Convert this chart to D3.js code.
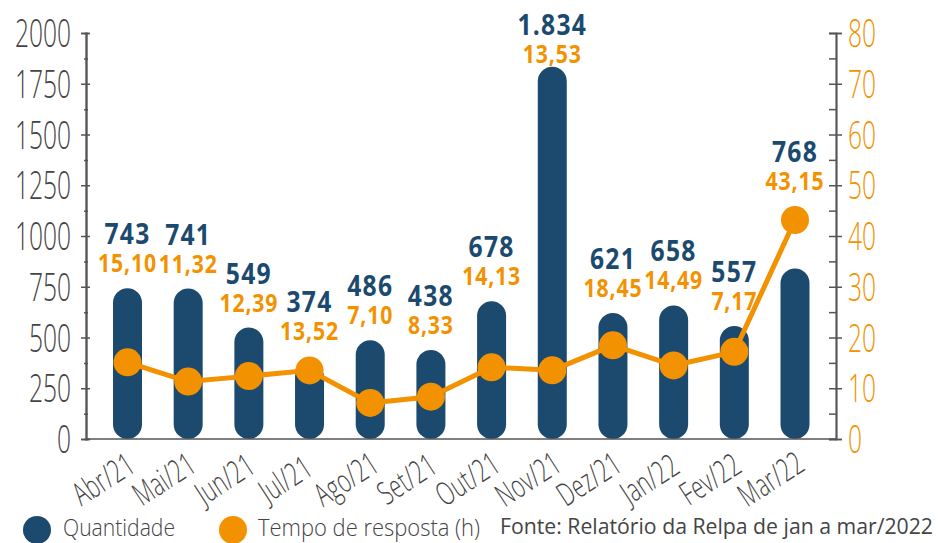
<!DOCTYPE html>
<html><head><meta charset="utf-8">
<script src="https://cdn.jsdelivr.net/npm/d3@7"></script>
<style>
html,body{margin:0;padding:0;background:#fff;}
svg{display:block;}
</style></head>
<body>
<svg id="chart" width="939" height="543"></svg>
<script>
// ---- data ----
const categories = ["Abr/21","Mai/21","Jun/21","Jul/21","Ago/21","Set/21","Out/21","Nov/21","Dez/21","Jan/22","Fev/22","Mar/22"];
const quantidade = [743, 741, 549, 374, 486, 438, 678, 1834, 621, 658, 557, 840];
const quantidadeLabels = ["743","741","549","374","486","438","678","1.834","621","658","557","768"];
const tempo = [15.10, 11.32, 12.39, 13.52, 7.10, 8.33, 14.13, 13.53, 18.45, 14.49, 17.17, 43.15];
const tempoLabels = ["15,10","11,32","12,39","13,52","7,10","8,33","14,13","13,53","18,45","14,49","7,17","43,15"];
const leftTicks = [0, 250, 500, 750, 1000, 1250, 1500, 1750, 2000];
const rightTicks = [0, 10, 20, 30, 40, 50, 60, 70, 80];
const legendItems = ["Quantidade", "Tempo de resposta (h)"];
const sourceText = "Fonte: Relatório da Relpa de jan a mar/2022";

// ---- style ----
const BLUE = "#1b4a6e", ORANGE = "#f39200", GREY = "#444", AXIS = "#555";
const FONT = "'Open Sans', 'Noto Sans', sans-serif";

const svg = d3.select("#chart");
const xL = 86, xR = 836, yB = 439, yT = 33;

const x = d3.scalePoint().domain(categories).range([127.5, 795]);
const yL = d3.scaleLinear().domain([0, 2000]).range([yB, yT]);
const yR = d3.scaleLinear().domain([0, 80]).range([yB, yT]);

function ctext(g, tx, ty, str, opt) {
  return g.append("text")
    .attr("transform", `translate(${tx},${ty}) rotate(${opt.rot||0}) scale(${opt.sx||1},1)`)
    .attr("text-anchor", opt.anchor || "middle")
    .attr("font-family", FONT)
    .attr("font-size", opt.size)
    .attr("font-weight", opt.weight || 400)
    .attr("letter-spacing", opt.ls || 0)
    .attr("fill", opt.fill)
    .attr("dy", opt.dy || 0)
    .text(str);
}

// ---- bars ----
const bw = 29;
svg.append("g").selectAll("rect").data(quantidade).join("rect")
  .attr("x", (d, i) => x(categories[i]) - bw / 2)
  .attr("width", bw)
  .attr("y", d => yL(d))
  .attr("height", d => yL(0) - yL(d))
  .attr("rx", bw / 2).attr("ry", bw / 2)
  .attr("fill", BLUE);

// ---- axes ----
const axG = svg.append("g");
const leftAxisOut = d3.axisLeft(yL).tickValues(leftTicks).tickSize(5).tickFormat("");
const leftAxisIn = d3.axisRight(yL).tickValues(leftTicks).tickSize(4).tickFormat("");
const leftMinor = d3.axisRight(yL).tickValues(d3.range(125, 2000, 250)).tickSize(2).tickFormat("");
const leftMinor2 = d3.axisLeft(yL).tickValues(d3.range(125, 2000, 250)).tickSize(2).tickFormat("");
[leftAxisOut, leftAxisIn, leftMinor, leftMinor2].forEach(a => {
  const g = axG.append("g").attr("transform", `translate(${xL},0)`).call(a);
  g.selectAll("path").attr("stroke", AXIS).attr("stroke-width", 1.5);
  g.selectAll("line").attr("stroke", AXIS).attr("stroke-width", 1.5);
});
const rightAxisOut = d3.axisRight(yR).tickValues(rightTicks).tickSize(6).tickFormat("");
const rightAxisIn = d3.axisLeft(yR).tickValues(rightTicks).tickSize(7).tickFormat("");
const rightMinor = d3.axisLeft(yR).tickValues(d3.range(5, 80, 10)).tickSize(7).tickFormat("");
[rightAxisOut, rightAxisIn, rightMinor].forEach(a => {
  const g = axG.append("g").attr("transform", `translate(${xR},0)`).call(a);
  g.selectAll("path").attr("stroke", AXIS).attr("stroke-width", 1.5);
  g.selectAll("line").attr("stroke", AXIS).attr("stroke-width", 1.5);
});
axG.append("line").attr("x1", xL).attr("x2", xR).attr("y1", yB).attr("y2", yB)
  .attr("stroke", AXIS).attr("stroke-width", 1.5);

// tick labels
const tl = svg.append("g");
leftTicks.forEach(v => ctext(tl, 71, yL(v), String(v), {anchor: "end", size: 39, weight: 300, sx: 0.63, fill: GREY, dy: "0.36em"}));
rightTicks.forEach(v => ctext(tl, 848, yR(v), String(v), {anchor: "start", size: 39, weight: 300, sx: 0.63, fill: ORANGE, dy: "0.36em"}));

// category labels
const cl = svg.append("g");
categories.forEach(c => ctext(cl, x(c) - 24, 479, c, {anchor: "middle", size: 32, weight: 300, sx: 0.66, rot: -33, fill: GREY, ls: 0.5, dy: "0.35em"}));

// ---- line ----
const line = d3.line().x((d, i) => x(categories[i])).y(d => yR(d));
svg.append("path").datum(tempo).attr("d", line)
  .attr("fill", "none").attr("stroke", ORANGE).attr("stroke-width", 5).attr("stroke-linejoin", "round");
svg.append("g").selectAll("circle").data(tempo).join("circle")
  .attr("cx", (d, i) => x(categories[i])).attr("cy", d => yR(d)).attr("r", 14).attr("fill", ORANGE);

// ---- value labels ----
const vl = svg.append("g");
categories.forEach((c, i) => {
  const top = Math.min(yL(quantidade[i]), yR(tempo[i]) - 14);
  const base = Math.max(top - 44, 35);
  ctext(vl, x(c), base, quantidadeLabels[i], {size: 29, weight: 700, sx: 0.85, ls: 1.5, fill: BLUE});
  ctext(vl, x(c), base + 28, tempoLabels[i], {size: 25, weight: 700, sx: 0.85, ls: 1, fill: ORANGE});
});

// ---- legend ----
const lg = svg.append("g");
lg.append("circle").attr("cx", 37).attr("cy", 530).attr("r", 14).attr("fill", BLUE);
lg.append("text").attr("x", 63).attr("y", 536).attr("font-family", FONT).attr("font-weight", 300)
  .attr("font-size", 24).attr("fill", GREY).attr("textLength", 112).attr("lengthAdjust", "spacingAndGlyphs")
  .text(legendItems[0]);
lg.append("circle").attr("cx", 233).attr("cy", 530).attr("r", 14).attr("fill", ORANGE);
lg.append("text").attr("x", 258).attr("y", 536).attr("font-family", FONT).attr("font-weight", 300)
  .attr("font-size", 24).attr("fill", GREY).attr("textLength", 222).attr("lengthAdjust", "spacingAndGlyphs")
  .text(legendItems[1]);
svg.append("text").attr("x", 500).attr("y", 534).attr("font-family", FONT)
  .attr("font-size", 21.5).attr("fill", GREY).attr("textLength", 433).attr("lengthAdjust", "spacingAndGlyphs")
  .text(sourceText);
</script>
</body></html>
